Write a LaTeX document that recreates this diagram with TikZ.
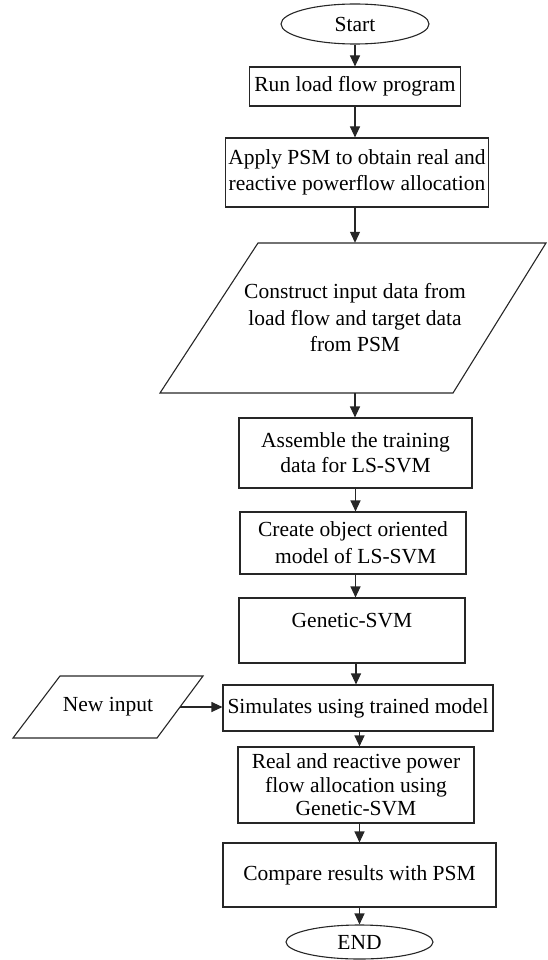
\documentclass[tikz,border=0pt]{standalone}
\usepackage{fontspec}
\setmainfont{Liberation Serif}
\usetikzlibrary{arrows.meta,shapes.geometric}
\begin{document}
\begin{tikzpicture}[x=1pt,y=-1pt,
  every node/.style={font=\fontsize{21.5}{26.5}\selectfont, text=black},
  box/.style={draw=black!85, line width=1.1pt, align=center, inner sep=1pt},
  term/.style={ellipse, draw=black!85, line width=1.1pt, inner sep=0pt},
  plain/.style={align=center, inner sep=0pt},
  shape line/.style={draw=black!85, line width=1.1pt, line join=miter},
  arr/.style={draw=black!85, line width=1.1pt, -{Triangle[length=11pt,width=10pt]}}]
\useasboundingbox (0,0) rectangle (547,960);

% main column
\node[term, minimum width=148pt, minimum height=40pt] (start) at (355,24) {Start};
\node[box, minimum width=211pt, minimum height=39pt] (run) at (355,86.5) {Run load flow program};
\node[box, minimum width=263pt, minimum height=69pt] (apply) at (357,172.5)
  {Apply PSM to obtain real and\\reactive powerflow allocation};
\node[plain, minimum width=190pt, minimum height=150pt] (para) at (355,318)
  {Construct input data from\\load flow and target data\\from PSM};
\draw[shape line] (258,243) -- (546,243) -- (453,393) -- (160,393) -- cycle;
\node[box, minimum width=233pt, minimum height=70pt, font=\fontsize{21.5}{25}\selectfont] (asm) at (355.5,453)
  {Assemble the training\\data for LS-SVM};
\node[box, minimum width=226pt, minimum height=62pt, font=\fontsize{21.5}{27}\selectfont] (create) at (353,543)
  {Create object oriented\\\ model of LS-SVM};
\node[box, minimum width=226pt, minimum height=65pt, text height=15pt, text depth=21pt] (gen) at (352,630.5) {Genetic-SVM};
\node[box, minimum width=270pt, minimum height=46pt] (sim) at (358,708) {Simulates using trained model};
\node[box, minimum width=236pt, minimum height=76pt, font=\fontsize{21.5}{23.5}\selectfont] (real) at (356,785)
  {Real and reactive power\\flow allocation using\\Genetic-SVM};
\node[box, minimum width=273pt, minimum height=64pt] (cmp) at (359.5,875) {Compare results with PSM};
\node[term, minimum width=147pt, minimum height=34pt] (end) at (359.5,942) {END};

% side input
\node[plain, minimum width=144pt, minimum height=62pt] (newin) at (108,707) {New input};
\draw[shape line] (60,676) -- (203,676) -- (157,738) -- (13,738) -- cycle;

% connectors
\draw[arr] (start.south) -- (start.south |- run.north);
\draw[arr] (run.south) -- (run.south |- apply.north);
\draw[arr] (apply.south -| para.north) -- (para.north);
\draw[arr] (para.south) -- (para.south |- asm.north);
\draw[arr] (asm.south) -- (asm.south |- create.north);
\draw[arr] (create.south -| asm.south) -- (asm.south |- gen.north);
\draw[arr] (gen.south -| sim.north) ++(-2,0) coordinate (g1) -- (g1 |- sim.north);
\draw[arr] (sim.south -| cmp.north) -- (cmp.north |- real.north);
\draw[arr] (real.south -| cmp.north) -- (cmp.north);
\draw[arr] (cmp.south) -- (end.north);
\draw[arr] (newin.east) -- (newin.east -| sim.west);
\end{tikzpicture}
\end{document}
